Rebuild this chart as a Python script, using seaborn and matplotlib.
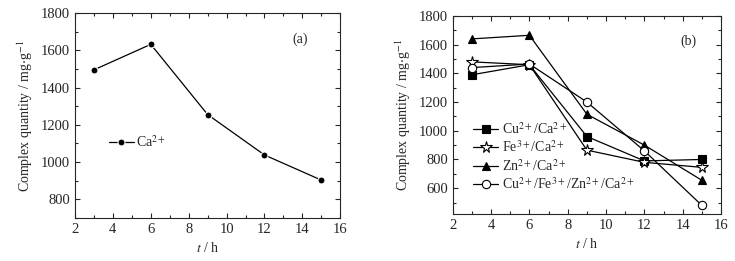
import matplotlib
matplotlib.use("Agg")
import matplotlib.pyplot as plt
import pandas as pd
import seaborn as sns
from matplotlib.ticker import MultipleLocator

# Data
t = [3, 6, 9, 12, 15]
ca = [1495, 1632, 1255, 1038, 903]

cu_ca = [1390, 1460, 960, 790, 800]
fe_ca = [1480, 1460, 865, 780, 745]
zn_ca = [1640, 1665, 1115, 900, 655]
mix_ca = [1440, 1465, 1200, 860, 480]

sns.set_style("ticks")
plt.rcParams['font.family'] = ['Liberation Serif', 'DejaVu Serif']
plt.rcParams['mathtext.fontset'] = 'stix'
plt.rcParams['font.size'] = 10

fig = plt.figure(figsize=(7.35, 2.61), dpi=100)
ax1 = fig.add_axes([0.102, 0.165, 0.361, 0.785])
ax2 = fig.add_axes([0.616, 0.180, 0.365, 0.759])

ylab = r'Complex quantity / mg$\cdot$g$^{-1}$'

# (a)
df_a = pd.DataFrame({'t': t, 'q': ca})
sns.lineplot(data=df_a, x='t', y='q', ax=ax1, color='black', marker='o',
             markersize=5, linewidth=0.9, label=r'Ca$^{2+}$')
ax1.set_xlim(2, 16)
ax1.set_ylim(700, 1800)
ax1.yaxis.set_major_locator(MultipleLocator(200))
ax1.yaxis.set_minor_locator(MultipleLocator(100))
ax1.legend(loc='center left', bbox_to_anchor=(0.08, 0.37), frameon=False,
           handlelength=1.8, handletextpad=0.2, fontsize=10)
ax1.text(0.85, 0.87, '(a)', transform=ax1.transAxes, ha='center', va='center', fontsize=10)

# (b)
series = [
    (cu_ca, r'Cu$^{2+}$/Ca$^{2+}$', 's', 'black'),
    (fe_ca, r'Fe$^{3+}$/Ca$^{2+}$', '*', 'white'),
    (zn_ca, r'Zn$^{2+}$/Ca$^{2+}$', '^', 'black'),
    (mix_ca, r'Cu$^{2+}$/Fe$^{3+}$/Zn$^{2+}$/Ca$^{2+}$', 'o', 'white'),
]
for vals, lab, mk, fc in series:
    d = pd.DataFrame({'t': t, 'q': vals})
    ms = 8.5 if mk == '*' else 6
    sns.lineplot(data=d, x='t', y='q', ax=ax2, color='black', marker=mk,
                 markersize=ms, markerfacecolor=fc, markeredgecolor='black',
                 markeredgewidth=0.8, linewidth=0.9, label=lab)
ax2.set_xlim(2, 16)
ax2.set_ylim(420, 1800)
ax2.yaxis.set_major_locator(MultipleLocator(200))
ax2.yaxis.set_minor_locator(MultipleLocator(100))
ax2.legend(loc='center left', bbox_to_anchor=(0.03, 0.29), frameon=False,
           handlelength=1.8, handletextpad=0.3, labelspacing=0.2, fontsize=10)
ax2.text(0.88, 0.87, '(b)', transform=ax2.transAxes, ha='center', va='center', fontsize=10)

for ax in (ax1, ax2):
    ax.xaxis.set_major_locator(MultipleLocator(2))
    ax.xaxis.set_minor_locator(MultipleLocator(1))
    ax.tick_params(which='both', direction='in', top=True, right=True,
                   labelsize=10.5, width=0.8)
    ax.tick_params(which='major', length=3.5)
    ax.tick_params(which='minor', length=2)
    for s in ax.spines.values():
        s.set_linewidth(0.8)
    ax.set_xlabel(r'$t$ / h', fontsize=10)
    ax.set_ylabel(ylab, fontsize=10)

fig.savefig('out.png', dpi=100)
